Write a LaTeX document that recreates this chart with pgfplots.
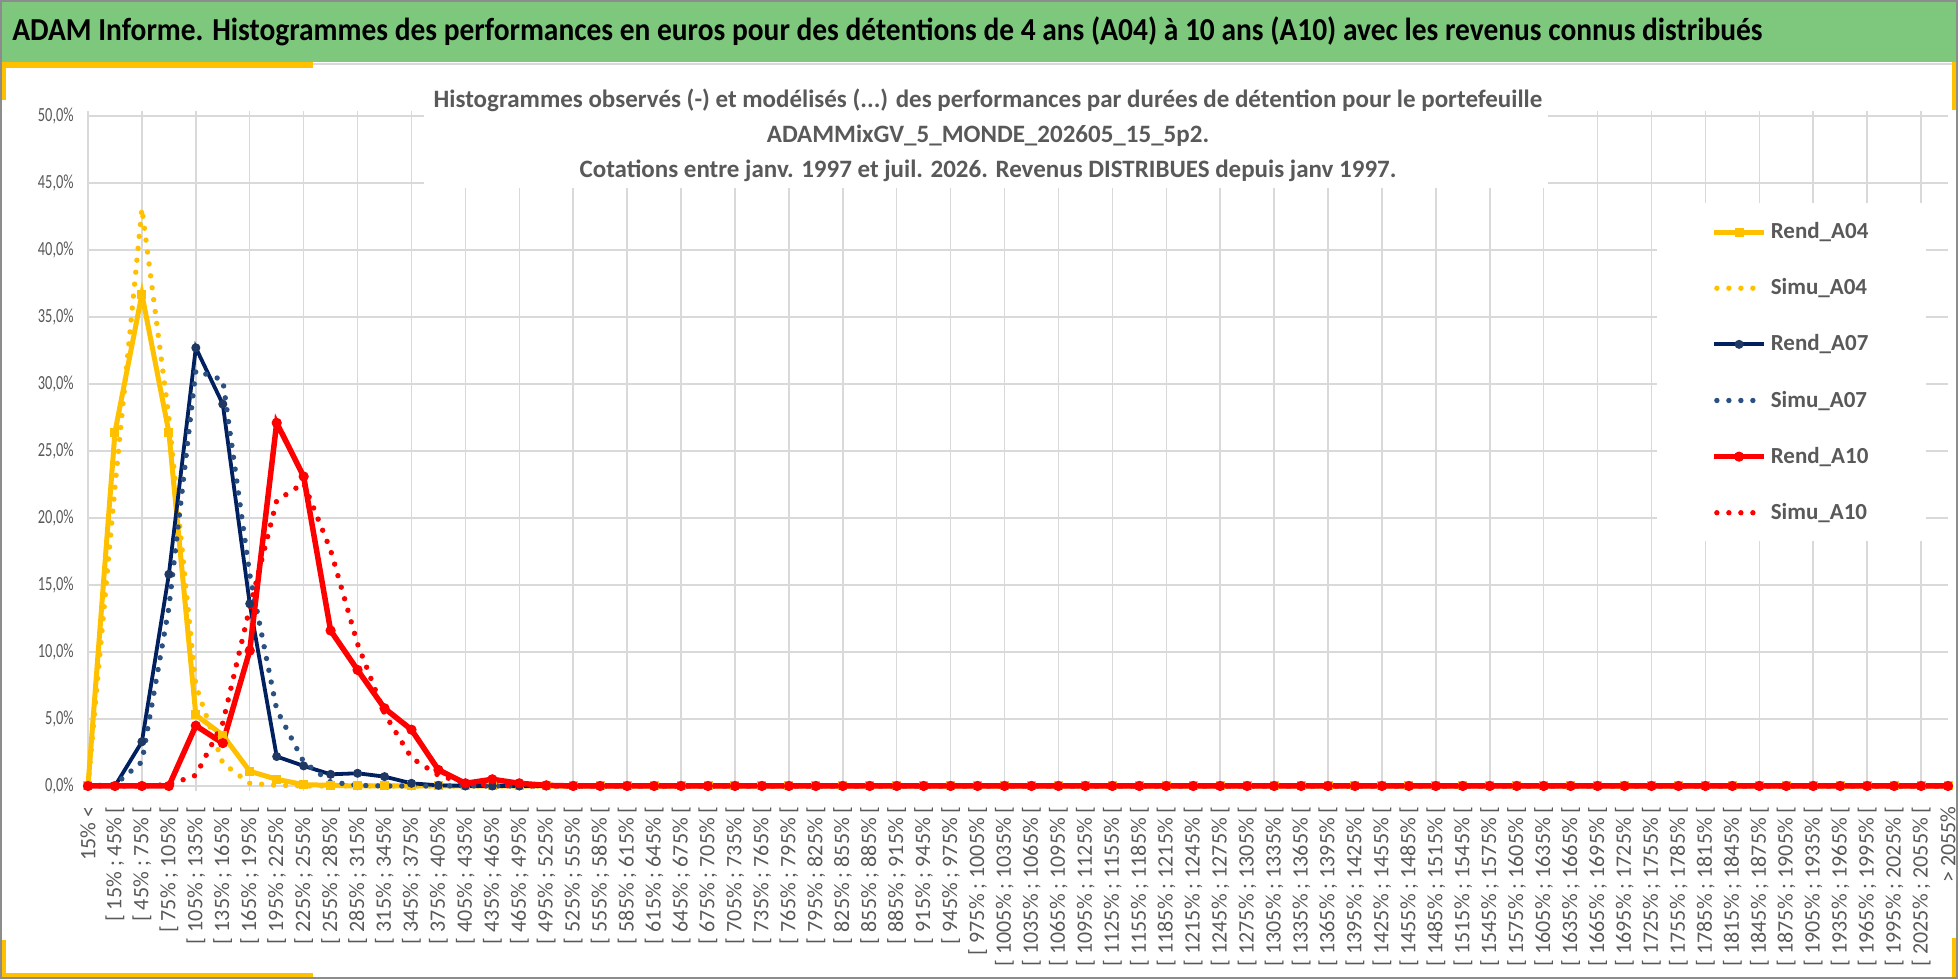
\documentclass[border=0pt]{standalone}
\usepackage{fontspec}
\setmainfont{Carlito}
\usepackage{pgfplots}
\pgfplotsset{compat=1.18}
\usepackage{pgfplotstable}
\definecolor{ylw}{HTML}{FFC000}
\definecolor{navy}{HTML}{002060}
\definecolor{navym}{HTML}{1F3864}
\definecolor{navyd}{HTML}{2B5082}
\definecolor{rd}{HTML}{FF0000}
\definecolor{gridgray}{HTML}{D9D9D9}
\definecolor{lbl}{HTML}{595959}
\definecolor{barg}{HTML}{7EC87E}
\definecolor{frame}{HTML}{8C8C8C}
\pgfplotsset{dotleg/.style={legend image code/.code={\draw[##1] plot coordinates {(1.4pt,0pt) (20pt,0pt)};}}}
\pgfplotstableread{
x ra4 sa4 ra7 sa7 ra10 sa10
0 0 0 0 0 0 0
1 26.4 22.3 0 0.1 0 0
2 36.7 43.1 3.3 1.8 0 0
3 26.4 27.5 15.8 13.3 0 0.1
4 5.3 7.5 32.7 31.0 4.5 0.8
5 3.8 1.7 28.5 30.3 3.2 4.7
6 1.1 0.2 13.6 15.8 10.1 13.3
7 0.5 0.05 2.2 5.7 27.1 21.3
8 0.1 0 1.5 1.8 23.1 22.6
9 0.05 0 0.87 0.3 11.6 17.6
10 0 0 0.95 0.05 8.66 10.6
11 0 0 0.7 0 5.8 5.4
12 0 0 0.2 0 4.2 2.1
13 0 0 0.05 0 1.2 0.8
14 0 0 0 0 0.2 0.2
15 0 0 0 0 0.5 0.05
16 0 0 0 0 0.2 0
17 0 0 0 0 0.05 0
18 0 0 0 0 0 0
19 0 0 0 0 0 0
20 0 0 0 0 0 0
21 0 0 0 0 0 0
22 0 0 0 0 0 0
23 0 0 0 0 0 0
24 0 0 0 0 0 0
25 0 0 0 0 0 0
26 0 0 0 0 0 0
27 0 0 0 0 0 0
28 0 0 0 0 0 0
29 0 0 0 0 0 0
30 0 0 0 0 0 0
31 0 0 0 0 0 0
32 0 0 0 0 0 0
33 0 0 0 0 0 0
34 0 0 0 0 0 0
35 0 0 0 0 0 0
36 0 0 0 0 0 0
37 0 0 0 0 0 0
38 0 0 0 0 0 0
39 0 0 0 0 0 0
40 0 0 0 0 0 0
41 0 0 0 0 0 0
42 0 0 0 0 0 0
43 0 0 0 0 0 0
44 0 0 0 0 0 0
45 0 0 0 0 0 0
46 0 0 0 0 0 0
47 0 0 0 0 0 0
48 0 0 0 0 0 0
49 0 0 0 0 0 0
50 0 0 0 0 0 0
51 0 0 0 0 0 0
52 0 0 0 0 0 0
53 0 0 0 0 0 0
54 0 0 0 0 0 0
55 0 0 0 0 0 0
56 0 0 0 0 0 0
57 0 0 0 0 0 0
58 0 0 0 0 0 0
59 0 0 0 0 0 0
60 0 0 0 0 0 0
61 0 0 0 0 0 0
62 0 0 0 0 0 0
63 0 0 0 0 0 0
64 0 0 0 0 0 0
65 0 0 0 0 0 0
66 0 0 0 0 0 0
67 0 0 0 0 0 0
68 0 0 0 0 0 0
69 0 0 0 0 0 0
}\data
\begin{document}
\begin{tikzpicture}
\path[use as bounding box] (0,0) rectangle (979pt,489.5pt);
\fill[white] (0,0) rectangle (979pt,489.5pt);
\fill[barg] (0,458.5pt) rectangle (979pt,489.5pt);
\draw[gridgray, line width=1pt] (0,457.5pt) -- (979pt,457.5pt);
\node[anchor=west, inner sep=0pt, xscale=0.92, font=\bfseries\fontsize{16}{19}\selectfont] at (6pt,474pt)
 {ADAM Informe. Histogrammes des performances en euros pour des détentions de 4 ans (A04) à 10 ans (A10) avec les revenus connus distribués};
\begin{axis}[
  at={(44pt,96.5pt)}, anchor=south west,
  scale only axis, width=930pt, height=335pt,
  xmin=0, xmax=69, ymin=0, ymax=50,
  clip=false,
  axis line style={draw=none},
  major tick length=0pt,
  ytick={0,5,...,50},
  yticklabels={{0,0\%},{5,0\%},{10,0\%},{15,0\%},{20,0\%},{25,0\%},{30,0\%},{35,0\%},{40,0\%},{45,0\%},{50,0\%}},
  ymajorgrids,
  major grid style={draw=gridgray, line width=0.75pt},
  yticklabel style={anchor=east, inner sep=0pt, xscale=0.72, font=\fontsize{10}{12}\selectfont, text=lbl},
  yticklabel shift=7pt,
  xtick={0,...,69},
  xticklabels={{15\% <},{[ 15\% ; 45\% [},{[ 45\% ; 75\% [},{[ 75\% ; 105\% [},{[ 105\% ; 135\% [},{[ 135\% ; 165\% [},{[ 165\% ; 195\% [},{[ 195\% ; 225\% [},{[ 225\% ; 255\% [},{[ 255\% ; 285\% [},{[ 285\% ; 315\% [},{[ 315\% ; 345\% [},{[ 345\% ; 375\% [},{[ 375\% ; 405\% [},{[ 405\% ; 435\% [},{[ 435\% ; 465\% [},{[ 465\% ; 495\% [},{[ 495\% ; 525\% [},{[ 525\% ; 555\% [},{[ 555\% ; 585\% [},{[ 585\% ; 615\% [},{[ 615\% ; 645\% [},{[ 645\% ; 675\% [},{[ 675\% ; 705\% [},{[ 705\% ; 735\% [},{[ 735\% ; 765\% [},{[ 765\% ; 795\% [},{[ 795\% ; 825\% [},{[ 825\% ; 855\% [},{[ 855\% ; 885\% [},{[ 885\% ; 915\% [},{[ 915\% ; 945\% [},{[ 945\% ; 975\% [},{[ 975\% ; 1005\% [},{[ 1005\% ; 1035\% [},{[ 1035\% ; 1065\% [},{[ 1065\% ; 1095\% [},{[ 1095\% ; 1125\% [},{[ 1125\% ; 1155\% [},{[ 1155\% ; 1185\% [},{[ 1185\% ; 1215\% [},{[ 1215\% ; 1245\% [},{[ 1245\% ; 1275\% [},{[ 1275\% ; 1305\% [},{[ 1305\% ; 1335\% [},{[ 1335\% ; 1365\% [},{[ 1365\% ; 1395\% [},{[ 1395\% ; 1425\% [},{[ 1425\% ; 1455\% [},{[ 1455\% ; 1485\% [},{[ 1485\% ; 1515\% [},{[ 1515\% ; 1545\% [},{[ 1545\% ; 1575\% [},{[ 1575\% ; 1605\% [},{[ 1605\% ; 1635\% [},{[ 1635\% ; 1665\% [},{[ 1665\% ; 1695\% [},{[ 1695\% ; 1725\% [},{[ 1725\% ; 1755\% [},{[ 1755\% ; 1785\% [},{[ 1785\% ; 1815\% [},{[ 1815\% ; 1845\% [},{[ 1845\% ; 1875\% [},{[ 1875\% ; 1905\% [},{[ 1905\% ; 1935\% [},{[ 1935\% ; 1965\% [},{[ 1965\% ; 1995\% [},{[ 1995\% ; 2025\% [},{[ 2025\% ; 2055\% [},{> 2055\%}},
  xticklabel style={rotate=90, anchor=east, inner sep=0pt, font=\fontsize{11}{13}\selectfont, text=lbl},
  xticklabel shift=10pt,
  extra x ticks={0,2,...,68},
  extra x tick labels={},
  extra x tick style={grid=major, major tick length=2.5pt, tick align=outside, tick style={draw=gridgray, line width=0.75pt}},
  legend style={at={(0.8435,0.870)}, anchor=north west, draw=none, fill=white,
    inner xsep=27pt, inner ysep=7.5pt, row sep=14.5pt,
    font=\bfseries\fontsize{11.5}{13}\selectfont, text=lbl},
  legend cell align=left,
  legend image code/.code={\draw[#1, mark repeat=2, mark phase=2] plot coordinates {(0pt,0pt) (12.5pt,0pt) (25pt,0pt)};},
]
\addplot[ylw, line width=2.5pt, mark=square*, mark size=2pt, mark options={solid, fill=ylw, line width=0.5pt}] table[x=x, y=ra4] {\data};
\addlegendentry{Rend\_A04}
\addplot[ylw, line width=2.7pt, line cap=round, dash pattern=on 0pt off 6pt, dotleg] table[x=x, y=sa4] {\data};
\addlegendentry{Simu\_A04}
\addplot[navy, line width=1.9pt, mark=*, mark size=2pt, mark options={solid, fill=navym, draw=navym, line width=0.5pt}] table[x=x, y=ra7] {\data};
\addlegendentry{Rend\_A07}
\addplot[navyd, line width=2.7pt, line cap=round, dash pattern=on 0pt off 6pt, dotleg] table[x=x, y=sa7] {\data};
\addlegendentry{Simu\_A07}
\addplot[rd, line width=2.75pt, mark=*, mark size=2.3pt, mark options={solid, fill=rd, line width=0.5pt}] table[x=x, y=ra10] {\data};
\addlegendentry{Rend\_A10}
\addplot[rd, line width=2.7pt, line cap=round, dash pattern=on 0pt off 6pt, dotleg] table[x=x, y=sa10] {\data};
\addlegendentry{Simu\_A10}
\end{axis}
\fill[white] (212pt,395.5pt) rectangle (774pt,452pt);
\node[align=center, inner sep=0pt, text=lbl, font=\bfseries\fontsize{12.5}{17.5}\selectfont] at (494pt,421.8pt)
 {Histogrammes observés (-) et modélisés (...) des performances par durées de détention pour le portefeuille\\
  ADAMMixGV\_5\_MONDE\_202605\_15\_5p2.\\
  Cotations entre janv. 1997 et juil. 2026. Revenus DISTRIBUES depuis janv 1997.};
\fill[ylw] (0,455.5pt) rectangle (156.5pt,458.5pt);
\fill[ylw] (0,439.5pt) rectangle (3pt,458.5pt);
\fill[ylw] (0,0) rectangle (156.5pt,3pt);
\fill[ylw] (0,0) rectangle (3pt,19.5pt);
\fill[ylw] (976pt,434.5pt) rectangle (979pt,458.5pt);
\fill[ylw] (976pt,0) rectangle (979pt,20.5pt);
\draw[frame, line width=0.8pt] (0.4pt,0.4pt) rectangle (978.6pt,489.1pt);
\end{tikzpicture}
\end{document}
